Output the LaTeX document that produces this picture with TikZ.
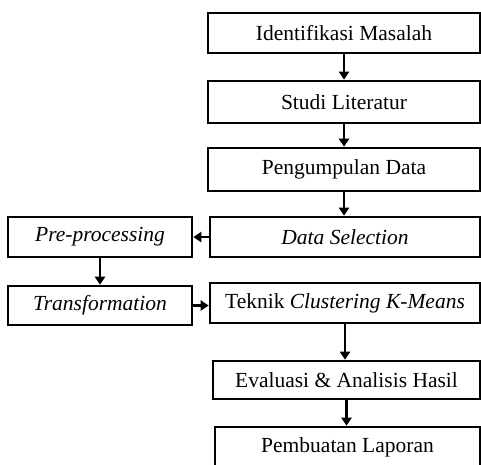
\documentclass[tikz,border=0pt]{standalone}
\usepackage{fontspec}
\setmainfont{Liberation Serif}
\usetikzlibrary{arrows.meta,calc}
\begin{document}
\begin{tikzpicture}[x=1pt,y=-1pt,
  box/.style={draw,line width=2.6pt,inner sep=0pt,align=center,font=\fontsize{21.5}{24}\selectfont},
  arr/.style={line width=2.6pt,-{Triangle[length=8pt,width=10pt]}}]
\useasboundingbox (0,0) rectangle (481,464);
\node[box,minimum width=272pt,minimum height=40pt] (b1) at (344,33) {Identifikasi Masalah};
\node[box,minimum width=272pt,minimum height=42pt] (b2) at (344,102) {Studi Literatur};
\node[box,minimum width=272pt,minimum height=43pt] (b3) at (344,169.5) {Pengumpulan Data};
\node[box,minimum width=270pt,minimum height=40pt] (ds) at (345,237) {\itshape Data Selection};
\node[box,minimum width=270pt,minimum height=40pt] (tk) at (345,303) {Teknik \textit{Clustering K-Means}};
\node[box,minimum width=267pt,minimum height=38pt] (ev) at (346.5,380) {Evaluasi \& Analisis Hasil};
\node[box,minimum width=265pt,minimum height=40pt] (pl) at (347.5,447) {Pembuatan Laporan};
\node[box,minimum width=184pt,minimum height=40pt] (pre) at (100,237) {\itshape Pre-processing};
\node[box,minimum width=184pt,minimum height=39pt] (tr) at (100,305.5) {\itshape Transformation};
\draw[arr] (b1.south) -- (b1.south |- b2.north);
\draw[arr] (b2.south) -- (b2.south |- b3.north);
\draw[arr] (b3.south) -- (b3.south |- ds.north);
\draw[arr] (ds.west) -- (pre.east);
\draw[arr] (pre.south) -- (tr.north);
\draw[arr] (tr.east) -- (tr.east -| tk.west);
\draw[arr] (tk.south) -- (tk.south |- ev.north);
\draw[arr] (ev.south) -- (ev.south |- pl.north);
\end{tikzpicture}
\end{document}
